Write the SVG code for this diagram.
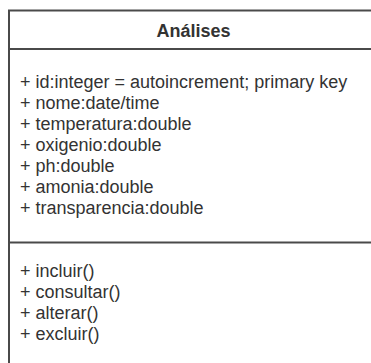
<svg xmlns="http://www.w3.org/2000/svg" width="371" height="363" viewBox="0 0 371 363">
<style>
.box{fill:#fff;stroke:#4a4a4a;stroke-width:2}
.sep{stroke:#4a4a4a;stroke-width:2}
.t{font-family:"Liberation Sans",Arial,sans-serif;font-size:18px;fill:#333}
.h{font-family:"Liberation Sans",Arial,sans-serif;font-size:18px;font-weight:bold;fill:#333;text-anchor:middle}
</style>
<rect width="371" height="363" fill="#fff"/>
<g id="analises">
<rect class="box" x="9" y="10.5" width="380" height="370"/>
<line class="sep" x1="9" y1="49" x2="389" y2="49"/>
<line class="sep" x1="9" y1="242.5" x2="389" y2="242.5"/>
<text class="h" x="193.5" y="36.5">Análises</text>
<text class="t" x="20" y="88">+ id:integer = autoincrement; primary key</text>
<text class="t" x="20" y="109">+ nome:date/time</text>
<text class="t" x="20" y="130">+ temperatura:double</text>
<text class="t" x="20" y="151">+ oxigenio:double</text>
<text class="t" x="20" y="172">+ ph:double</text>
<text class="t" x="20" y="193">+ amonia:double</text>
<text class="t" x="20" y="214">+ transparencia:double</text>
<text class="t" x="20" y="276.5">+ incluir()</text>
<text class="t" x="20" y="297.5">+ consultar()</text>
<text class="t" x="20" y="318.5">+ alterar()</text>
<text class="t" x="20" y="339.5">+ excluir()</text>
</g>
</svg>
